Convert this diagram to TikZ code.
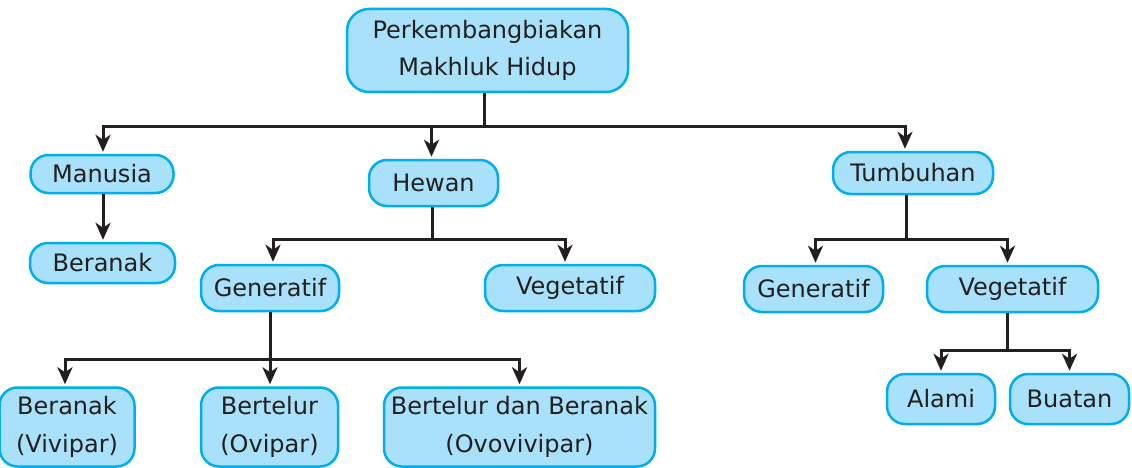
\documentclass[tikz,border=0pt]{standalone}
\usepackage{fontspec}
\setmainfont{DejaVu Sans}
\usetikzlibrary{arrows.meta}
\definecolor{boxfill}{HTML}{A8E1F9}
\definecolor{boxline}{HTML}{00AEEF}
\definecolor{ink}{HTML}{231F20}
\begin{document}
\begin{tikzpicture}[x=1pt,y=-1pt,
  box/.style={draw=boxline,fill=boxfill,line width=2.5pt,rounded corners=18pt,
    inner sep=0pt,align=center,text=ink,font={\fontsize{24}{37.5}\selectfont}},
  conn/.style={draw=ink,line width=3pt,line join=miter},
  arr/.style={conn,-{Stealth[length=17pt,width=15pt,inset=5pt]},shorten >=2pt}]
\useasboundingbox (0,0) rectangle (1132,468);
\node[box,minimum width=281pt,minimum height=83pt,rounded corners=22pt] (root) at (487.5,50.5) {Perkembangbiakan\\Makhluk Hidup};
\node[box,minimum width=143pt,minimum height=38pt] (manusia) at (102,174) {Manusia};
\node[box,minimum width=145pt,minimum height=40pt] (beranakm) at (102.5,263) {Beranak};
\node[box,minimum width=129pt,minimum height=46pt] (hewan) at (433.5,183) {Hewan};
\node[box,minimum width=138pt,minimum height=46pt] (genh) at (270,288) {Generatif};
\node[box,minimum width=170pt,minimum height=46pt] (vegh) at (570,288) {Vegetatif};
\node[box,minimum width=135pt,minimum height=79pt] (vivi) at (67,427) {Beranak\\(Vivipar)};
\node[box,minimum width=137pt,minimum height=79pt] (ovi) at (269.5,427) {Bertelur\\(Ovipar)};
\node[box,minimum width=271pt,minimum height=79pt] (ovovi) at (519.5,427) {Bertelur dan Beranak\\(Ovovivipar)};
\node[box,minimum width=160pt,minimum height=42pt] (tumb) at (913,173) {Tumbuhan};
\node[box,minimum width=139pt,minimum height=46pt] (gent) at (813.5,289) {Generatif};
\node[box,minimum width=171pt,minimum height=46pt] (vegt) at (1012.5,289) {Vegetatif};
\node[box,minimum width=108pt,minimum height=50pt] (alami) at (941,399) {Alami};
\node[box,minimum width=119pt,minimum height=50pt] (buatan) at (1069.5,399) {Buatan};
% top level
\coordinate (b1) at (484,127);
\draw[conn] (root.south -| b1) -- (b1);
\draw[arr] (b1) -| ([xshift=1pt]manusia.north);
\draw[arr] (b1) -| ([xshift=-2pt]hewan.north);
\draw[arr] (b1) -| ([xshift=-8pt]tumb.north);
% manusia
\draw[arr] ([xshift=1pt]manusia.south) -- ([xshift=0.5pt]beranakm.north);
% hewan
\coordinate (b2) at (432,239);
\draw[conn] (hewan.south -| b2) -- (b2);
\draw[arr] (b2) -| ([xshift=3pt]genh.north);
\draw[arr] (b2) -| ([xshift=-5pt]vegh.north);
% generatif hewan
\coordinate (b3) at (270,359);
\draw[conn] (genh.south) -- (b3);
\draw[arr] (b3) -| ([xshift=-2pt]vivi.north);
\draw[arr] (b3) -- (ovi.north -| b3);
\draw[arr] (b3) -| (ovovi.north);
% tumbuhan
\coordinate (b4) at (906,239);
\draw[conn] (tumb.south -| b4) -- (b4);
\draw[arr] (b4) -| ([xshift=2pt]gent.north);
\draw[arr] (b4) -| ([xshift=-5pt]vegt.north);
% vegetatif tumbuhan
\coordinate (b5) at (1007,350);
\draw[conn] (vegt.south -| b5) -- (b5);
\draw[arr] (b5) -| (alami.north);
\draw[arr] (b5) -| (buatan.north);
\end{tikzpicture}
\end{document}
